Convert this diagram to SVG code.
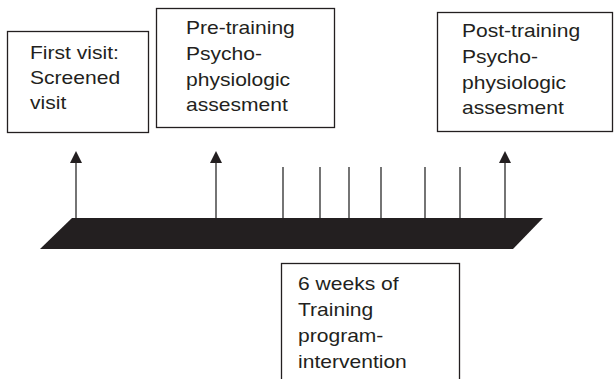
<svg xmlns="http://www.w3.org/2000/svg" width="614" height="379" viewBox="0 0 614 379">
<defs>
<style>
.box{fill:#fff;stroke:#231f20;stroke-width:1.3}
.lbl{font-family:"Liberation Sans",Arial,sans-serif;font-size:18px;fill:#231f20}
.tick{stroke:#3a3a3a;stroke-width:1.4;fill:none}
.head{fill:#231f20}
</style>
</defs>
<rect width="614" height="379" fill="#fff"/>
<g id="timeline">
<polygon points="72,218 543,218 513,249 40,249" fill="#231f20"/>
</g>
<g id="connectors">
<line class="tick" x1="283" y1="167" x2="283" y2="218"/>
<line class="tick" x1="320" y1="167" x2="320" y2="218"/>
<line class="tick" x1="349" y1="167" x2="349" y2="218"/>
<line class="tick" x1="381" y1="167" x2="381" y2="218"/>
<line class="tick" x1="425" y1="167" x2="425" y2="218"/>
<line class="tick" x1="460" y1="167" x2="460" y2="218"/>
<line class="tick" x1="76" y1="162" x2="76" y2="218"/>
<line class="tick" x1="216" y1="162" x2="216" y2="218"/>
<line class="tick" x1="505" y1="162" x2="505" y2="218"/>
<polygon class="head" points="76,151 70,163 82,163"/>
<polygon class="head" points="216,151 210,163 222,163"/>
<polygon class="head" points="505,151 499,163 511,163"/>
</g>
<g id="node-first-visit">
<rect class="box" x="7.5" y="31.5" width="141" height="101"/>
<g transform="translate(30,0) scale(1.17,1)">
<text class="lbl" x="0" y="59">First visit:</text>
<text class="lbl" x="0" y="84">Screened</text>
<text class="lbl" x="0" y="109">visit</text>
</g>
</g>
<g id="node-pre-training">
<rect class="box" x="156.5" y="8.5" width="178" height="119"/>
<g transform="translate(186,0) scale(1.17,1)">
<text class="lbl" x="0" y="34">Pre-training</text>
<text class="lbl" x="0" y="60">Psycho-</text>
<text class="lbl" x="0" y="86">physiologic</text>
<text class="lbl" x="0" y="111">assesment</text>
</g>
</g>
<g id="node-post-training">
<rect class="box" x="437.5" y="12.5" width="175" height="119"/>
<g transform="translate(462,0) scale(1.17,1)">
<text class="lbl" x="0" y="37">Post-training</text>
<text class="lbl" x="0" y="63">Psycho-</text>
<text class="lbl" x="0" y="89">physiologic</text>
<text class="lbl" x="0" y="114">assesment</text>
</g>
</g>
<g id="node-training">
<rect class="box" x="281.5" y="263.5" width="178" height="130"/>
<g transform="translate(298,0) scale(1.17,1)">
<text class="lbl" x="0" y="290">6 weeks of</text>
<text class="lbl" x="0" y="316">Training</text>
<text class="lbl" x="0" y="342">program-</text>
<text class="lbl" x="0" y="368">intervention</text>
</g>
</g>
</svg>
